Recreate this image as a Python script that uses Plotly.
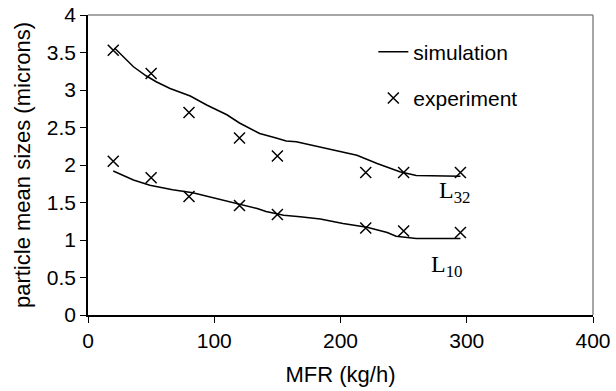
import plotly.graph_objects as go

# Experimental data
exp_x = [20, 50, 80, 120, 150, 220, 250, 295]
exp_L32 = [3.53, 3.22, 2.70, 2.36, 2.12, 1.90, 1.90, 1.90]
exp_L10 = [2.05, 1.83, 1.58, 1.46, 1.34, 1.16, 1.12, 1.10]

# Simulation curves
sim32_x = [21, 29, 36, 46, 54, 65, 81, 94, 110, 120, 136, 149, 157, 165, 184, 194, 213, 229, 247, 260, 295]
sim32_y = [3.56, 3.42, 3.31, 3.19, 3.11, 3.02, 2.92, 2.80, 2.67, 2.56, 2.42, 2.36, 2.32, 2.31, 2.24, 2.21, 2.13, 2.02, 1.91, 1.86, 1.85]
sim10_x = [20, 36, 49, 67, 83, 102, 120, 134, 141, 155, 168, 184, 202, 221, 237, 244, 260, 295]
sim10_y = [1.92, 1.80, 1.73, 1.67, 1.63, 1.55, 1.48, 1.42, 1.38, 1.33, 1.31, 1.28, 1.22, 1.17, 1.10, 1.05, 1.02, 1.02]

x_ticks = [0, 100, 200, 300, 400]
y_ticks = [0, 0.5, 1, 1.5, 2, 2.5, 3, 3.5, 4]

font = "Liberation Sans, Arial, sans-serif"
serif = "Liberation Serif, Times New Roman, serif"

fig = go.Figure()
fig.add_trace(go.Scatter(x=sim32_x, y=sim32_y, mode="lines", line=dict(color="black", width=1.5),
                         name="simulation", legendgroup="a"))
fig.add_trace(go.Scatter(x=sim10_x, y=sim10_y, mode="lines", line=dict(color="black", width=1.5),
                         showlegend=False))
fig.add_trace(go.Scatter(x=exp_x, y=exp_L32, mode="markers",
                         marker=dict(symbol="x-thin", size=11, color="black", line=dict(width=1.5, color="black")),
                         name="experiment", legendgroup="b"))
fig.add_trace(go.Scatter(x=exp_x, y=exp_L10, mode="markers",
                         marker=dict(symbol="x-thin", size=11, color="black", line=dict(width=1.5, color="black")),
                         showlegend=False))

fig.add_annotation(x=290, y=1.64, text="L<sub>32</sub>", showarrow=False,
                   font=dict(family=serif, size=24, color="black"))
fig.add_annotation(x=284, y=0.65, text="L<sub>10</sub>", showarrow=False,
                   font=dict(family=serif, size=24, color="black"))

# gray top/right frame
fig.add_shape(type="line", xref="paper", yref="paper", x0=0, x1=1, y0=1, y1=1,
              line=dict(color="#888888", width=1.5))
fig.add_shape(type="line", xref="paper", yref="paper", x0=1, x1=1, y0=0, y1=1,
              line=dict(color="#888888", width=1.5))

fig.update_layout(
    width=616, height=391,
    margin=dict(l=88, r=23, t=15, b=76),
    plot_bgcolor="white", paper_bgcolor="white",
    font=dict(family=font, size=21, color="black"),
    legend=dict(x=0.565, y=0.945, xanchor="left", yanchor="top", bgcolor="rgba(0,0,0,0)",
                tracegroupgap=16, font=dict(size=21)),
    xaxis=dict(range=[0, 400], tickvals=x_ticks, showgrid=False, zeroline=False,
               showline=True, linecolor="black", linewidth=1.5, automargin=False,
               ticks="outside", ticklen=6, tickcolor="black",
               tickfont=dict(size=21),
               title=dict(text="MFR (kg/h)", font=dict(size=22), standoff=16)),
    yaxis=dict(range=[0, 4], tickvals=y_ticks, showgrid=False, zeroline=False,
               showline=True, linecolor="black", linewidth=1.5, automargin=False,
               ticks="outside", ticklen=6, tickcolor="black",
               tickfont=dict(size=21),
               title=dict(text="particle mean sizes (microns)", font=dict(size=22), standoff=10)),
)

fig.write_html("out.html")
